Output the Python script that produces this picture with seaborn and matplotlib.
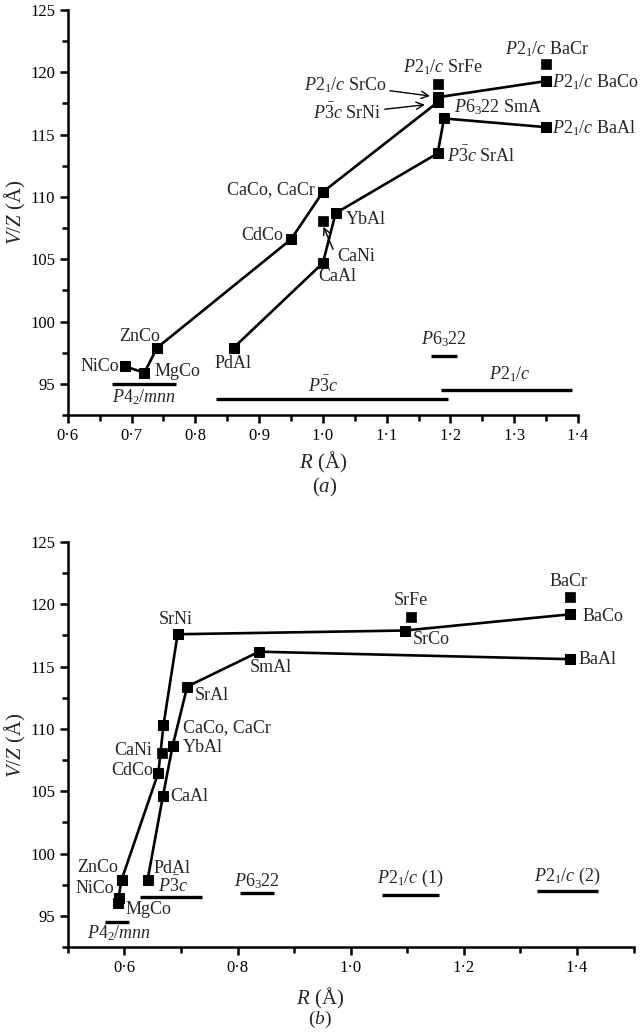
import matplotlib
matplotlib.use("Agg")
import matplotlib.pyplot as plt
from matplotlib.ticker import MultipleLocator, FixedLocator, FuncFormatter
import seaborn as sns
import pandas as pd

# ---- data ----
co_names = ["NiCo", "MgCo", "ZnCo", "CdCo", "CaCo, CaCr", "SrNi", "SrCo", "BaCo"]
co_R_a = [0.69, 0.72, 0.74, 0.95, 1.00, 1.18, 1.18, 1.35]
co_V_a = [96.4, 95.9, 97.9, 106.6, 110.4, 117.6, 118.0, 119.3]
co_R_b = [0.590, 0.588, 0.595, 0.660, 0.669, 0.694, 1.096, 1.388]
co_V_b = [96.4, 96.0, 97.9, 106.5, 110.3, 117.6, 117.9, 119.2]

al_names = ["PdAl", "CaAl", "YbAl", "SrAl", "SmAl", "BaAl"]
al_R_a = [0.86, 1.00, 1.02, 1.18, 1.19, 1.35]
al_V_a = [97.9, 104.7, 108.7, 113.5, 116.3, 115.6]
al_R_b = [0.641, 0.668, 0.685, 0.711, 0.838, 1.388]
al_V_b = [97.9, 104.6, 108.6, 113.4, 116.2, 115.6]

odd_names = ["CaNi", "SrFe", "BaCr"]
odd_R_a = [1.00, 1.18, 1.35]
odd_V_a = [108.1, 119.1, 120.7]
odd_R_b = [0.667, 1.106, 1.388]
odd_V_b = [108.1, 119.0, 120.6]

# phase ranges: (label, R start, R end, V level)
phases_a = [(r"$P4_2/mnn$", 0.67, 0.77, 95.0),
            (r"$P\bar{3}c$", 0.832, 1.196, 93.8),
            (r"$P6_322$", 1.169, 1.21, 97.2),
            (r"$P2_1/c$", 1.186, 1.391, 94.5)]
phases_b = [(r"$P4_2/mnn$", 0.565, 0.608, 94.5),
            (r"$P\bar{3}c$", 0.628, 0.738, 96.5),
            (r"$P6_322$", 0.805, 0.865, 96.8),
            (r"$P2_1/c$ (1)", 1.055, 1.156, 96.7),
            (r"$P2_1/c$ (2)", 1.33, 1.437, 97.0)]

# ---- style ----
sns.set_theme(style="ticks")
plt.rcParams["font.family"] = ["Liberation Serif", "DejaVu Serif"]
plt.rcParams["mathtext.fontset"] = "custom"
plt.rcParams["mathtext.rm"] = "Liberation Serif"
plt.rcParams["mathtext.it"] = "Liberation Serif:italic"
plt.rcParams["mathtext.bf"] = "Liberation Serif:bold"
plt.rcParams["axes.edgecolor"] = "black"
plt.rcParams["axes.linewidth"] = 1.8
plt.rcParams["xtick.color"] = "black"
plt.rcParams["ytick.color"] = "black"

FS = 13
TICK_FS = 12
LAB_FS = 15
dot_fmt = FuncFormatter(lambda v, p: f"{v:.1f}".replace(".", "\u00b7"))

fig = plt.figure(figsize=(6.4, 10.34), dpi=100)
ax_a = fig.add_axes([0.106, 0.5986, 0.797, 0.3917])
ax_b = fig.add_axes([0.106, 0.0841, 0.884, 0.3917])


def draw(ax, co_R, co_V, al_R, al_V, odd_R, odd_V, phases, bar_txt):
    for R, V, names in [(co_R, co_V, co_names), (al_R, al_V, al_names)]:
        df = pd.DataFrame({"R": R, "V": V, "name": names})
        sns.lineplot(data=df, x="R", y="V", sort=False, estimator=None,
                     color="black", linewidth=1.9, marker="s", markersize=7.5,
                     markeredgecolor="black", ax=ax)
    df_odd = pd.DataFrame({"R": odd_R, "V": odd_V, "name": odd_names})
    sns.scatterplot(data=df_odd, x="R", y="V", marker="s", s=50,
                    color="black", edgecolor="black", linewidth=0.5, ax=ax)
    for (lab, r0, r1, v), (tx, ty) in zip(phases, bar_txt):
        ax.hlines(v, r0, r1, color="black", linewidth=2.4)
        ax.text(tx, ty, lab, ha="center", va="center", fontsize=FS)
    ax.set_ylim(92.5, 125)
    ax.yaxis.set_minor_locator(MultipleLocator(2.5))
    ax.set_yticks([95, 100, 105, 110, 115, 120, 125])
    ax.set_xlabel("")
    ax.set_ylabel("")
    ax.xaxis.set_major_formatter(dot_fmt)
    ax.tick_params(which="major", direction="out", length=6, width=1.8, labelsize=TICK_FS, pad=3)
    ax.tick_params(which="minor", direction="out", length=4, width=1.8)
    sns.despine(ax=ax)


# ---- panel (a) ----
draw(ax_a, co_R_a, co_V_a, al_R_a, al_V_a, odd_R_a, odd_V_a, phases_a,
     [(0.72, 93.9), (1.0, 94.85), (1.19, 98.6), (1.293, 95.8)])
ax_a.set_xlim(0.6, 1.4)
ax_a.xaxis.set_major_locator(MultipleLocator(0.1))
ax_a.xaxis.set_minor_locator(MultipleLocator(0.05))

labels_a = [("NiCo", 0.68, 96.4, "right"), ("MgCo", 0.736, 96.0, "left"),
            ("ZnCo", 0.712, 98.8, "center"), ("PdAl", 0.859, 96.6, "center"),
            ("CdCo", 0.937, 106.9, "right"), ("CaCo, CaCr", 0.987, 110.6, "right"),
            ("CaAl", 0.993, 103.6, "left"), ("YbAl", 1.036, 108.2, "left"),
            ("CaNi", 1.023, 105.2, "left"),
            (r"$P2_1/c$ SrFe", 1.188, 120.4, "center"),
            (r"$P2_1/c$ BaCr", 1.352, 121.9, "center"),
            (r"$P2_1/c$ BaCo", 1.359, 119.2, "left"),
            (r"$P2_1/c$ BaAl", 1.359, 115.5, "left"),
            (r"$P6_322$ SmA", 1.206, 117.2, "left"),
            (r"$P\bar{3}c$ SrAl", 1.194, 113.3, "left")]
for t, x, y, ha in labels_a:
    ax_a.text(x, y, t, ha=ha, va="center", fontsize=FS)

arrow = dict(arrowstyle="->", color="black", lw=1.0, shrinkA=0, shrinkB=0)
ax_a.annotate(r"$P2_1/c$ SrCo", xy=(1.168, 118.1), xytext=(1.10, 119.0),
              ha="right", va="center", fontsize=FS, arrowprops=arrow)
ax_a.annotate(r"$P\bar{3}c$ SrNi", xy=(1.16, 117.4), xytext=(1.092, 116.7),
              ha="right", va="center", fontsize=FS, arrowprops=arrow)
ax_a.annotate("", xy=(1.001, 107.6), xytext=(1.016, 105.8), arrowprops=arrow)

# ---- panel (b) ----
draw(ax_b, co_R_b, co_V_b, al_R_b, al_V_b, odd_R_b, odd_V_b, phases_b,
     [(0.59, 93.6), (0.685, 97.4), (0.835, 97.8), (1.106, 98.0), (1.383, 98.2)])
ax_b.set_xlim(0.5, 1.5)
ax_b.xaxis.set_major_locator(FixedLocator([0.6, 0.8, 1.0, 1.2, 1.4]))
ax_b.xaxis.set_minor_locator(FixedLocator([0.5, 0.7, 0.9, 1.1, 1.3, 1.5]))

labels_b = [("SrNi", 0.690, 118.8, "center"), ("SmAl", 0.858, 114.9, "center"),
            ("SrAl", 0.724, 112.7, "left"), ("CaCo, CaCr", 0.703, 110.1, "left"),
            ("YbAl", 0.703, 108.5, "left"), ("CaNi", 0.648, 108.3, "right"),
            ("CdCo", 0.650, 106.7, "right"), ("CaAl", 0.681, 104.6, "left"),
            ("ZnCo", 0.588, 98.9, "right"), ("NiCo", 0.582, 97.2, "right"),
            ("MgCo", 0.602, 95.5, "left"), ("PdAl", 0.652, 98.8, "left"),
            ("SrFe", 1.106, 120.3, "center"), ("SrCo", 1.11, 117.2, "left"),
            ("BaCr", 1.385, 121.8, "center"), ("BaCo", 1.409, 119.0, "left"),
            ("BaAl", 1.402, 115.6, "left")]
for t, x, y, ha in labels_b:
    ax_b.text(x, y, t, ha=ha, va="center", fontsize=FS)

# ---- axis titles ----
fig.text(0.505, 1 - 462 / 1034, "$R$ (Å)", ha="center", va="center", fontsize=LAB_FS)
fig.text(0.508, 1 - 487 / 1034, "($a$)", ha="center", va="center", fontsize=LAB_FS)
fig.text(0.5, 1 - 998 / 1034, "$R$ (Å)", ha="center", va="center", fontsize=LAB_FS)
fig.text(0.5, 1 - 1019 / 1034, "($b$)", ha="center", va="center", fontsize=14)
fig.text(0.024, 1 - 212 / 1034, "$V/Z$ (Å)", rotation=90, ha="center", va="center", fontsize=LAB_FS)
fig.text(0.024, 1 - 745 / 1034, "$V/Z$ (Å)", rotation=90, ha="center", va="center", fontsize=LAB_FS)

fig.savefig("out.png", dpi=100, facecolor="white")
plt.close(fig)
